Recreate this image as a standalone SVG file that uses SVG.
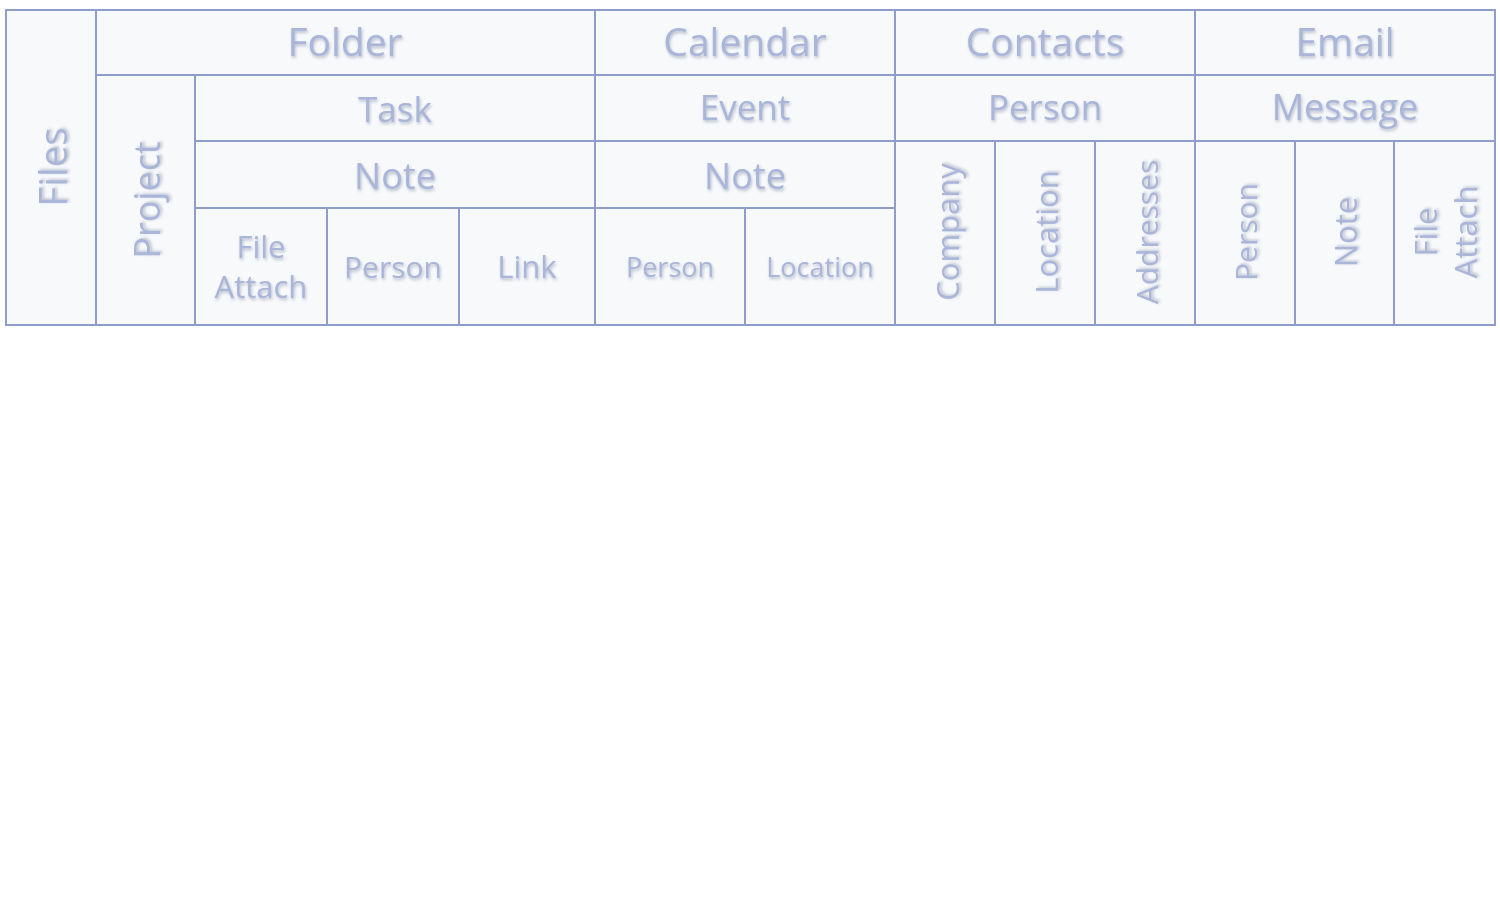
<svg xmlns="http://www.w3.org/2000/svg" width="1500" height="900" viewBox="0 0 1500 900">
<defs>
<filter id="sh" x="-20%" y="-20%" width="140%" height="160%">
<feDropShadow dx="1" dy="2" stdDeviation="1.6" flood-color="#6b7390" flood-opacity="0.45"/>
</filter>
<style>
.cell{fill:#f7f9fb;stroke:#8e9dca;stroke-width:2}
.t{font-family:"Open Sans","Noto Sans",sans-serif;fill:#a9b5d9;text-anchor:middle;dominant-baseline:central;filter:url(#sh)}
.xl{font-size:39px}
.n{font-size:36px}
.l{font-size:35px}
.m{font-size:31px}
.s{font-size:27px}
</style>
</defs>
<rect x="0" y="0" width="1500" height="900" fill="#ffffff"/>
<rect x="6" y="10" width="1489" height="315" fill="#f7f9fb" stroke="#a8b6d8" stroke-width="2"/>
<g id="files"><rect class="cell" x="6" y="10" width="90" height="315"/><text class="t" style="font-size:38.5px" transform="translate(52,167) rotate(-90)">Files</text></g>
<g id="folder"><rect class="cell" x="96" y="10" width="499" height="65"/><text class="t xl" x="345" y="40">Folder</text></g>
<g id="project"><rect class="cell" x="96" y="75" width="99" height="250"/><text class="t n" transform="translate(146,200) rotate(-90)">Project</text></g>
<g id="task"><rect class="cell" x="195" y="75" width="400" height="66"/><text class="t l" x="395" y="108">Task</text></g>
<g id="note1"><rect class="cell" x="195" y="141" width="400" height="67"/><text class="t n" x="395" y="175">Note</text></g>
<g id="fileattach1"><rect class="cell" x="195" y="208" width="132" height="117"/><text class="t m" x="261" y="246">File</text><text class="t m" x="261" y="286">Attach</text></g>
<g id="person1"><rect class="cell" x="327" y="208" width="132" height="117"/><text class="t" style="font-size:30px" x="393" y="266">Person</text></g>
<g id="link"><rect class="cell" x="459" y="208" width="136" height="117"/><text class="t m" x="527" y="266">Link</text></g>
<g id="calendar"><rect class="cell" x="595" y="10" width="300" height="65"/><text class="t xl" x="745" y="40">Calendar</text></g>
<g id="event"><rect class="cell" x="595" y="75" width="300" height="66"/><text class="t l" x="745" y="106">Event</text></g>
<g id="note2"><rect class="cell" x="595" y="141" width="300" height="67"/><text class="t n" x="745" y="175">Note</text></g>
<g id="person2"><rect class="cell" x="595" y="208" width="150" height="117"/><text class="t s" x="670" y="266">Person</text></g>
<g id="location1"><rect class="cell" x="745" y="208" width="150" height="117"/><text class="t s" x="820" y="266">Location</text></g>
<g id="contacts"><rect class="cell" x="895" y="10" width="300" height="65"/><text class="t xl" x="1045" y="40">Contacts</text></g>
<g id="person3"><rect class="cell" x="895" y="75" width="300" height="66"/><text class="t l" x="1045" y="106">Person</text></g>
<g id="company"><rect class="cell" x="895" y="141" width="100" height="184"/><text class="t m" transform="translate(947,232) rotate(-90)">Company</text></g>
<g id="location2"><rect class="cell" x="995" y="141" width="100" height="184"/><text class="t m" transform="translate(1046,232) rotate(-90)">Location</text></g>
<g id="addresses"><rect class="cell" x="1095" y="141" width="100" height="184"/><text class="t" style="font-size:30px" transform="translate(1146,232) rotate(-90)">Addresses</text></g>
<g id="email"><rect class="cell" x="1195" y="10" width="300" height="65"/><text class="t xl" x="1345" y="40">Email</text></g>
<g id="message"><rect class="cell" x="1195" y="75" width="300" height="66"/><text class="t n" x="1345" y="106">Message</text></g>
<g id="person4"><rect class="cell" x="1195" y="141" width="100" height="184"/><text class="t" style="font-size:30px" transform="translate(1245,232) rotate(-90)">Person</text></g>
<g id="note3"><rect class="cell" x="1295" y="141" width="99" height="184"/><text class="t m" transform="translate(1345,232) rotate(-90)">Note</text></g>
<g id="fileattach2"><rect class="cell" x="1394" y="141" width="101" height="184"/><text class="t m" transform="translate(1425,232) rotate(-90)">File</text><text class="t m" transform="translate(1465,232) rotate(-90)">Attach</text></g>
<g id="connectors"></g>
</svg>
